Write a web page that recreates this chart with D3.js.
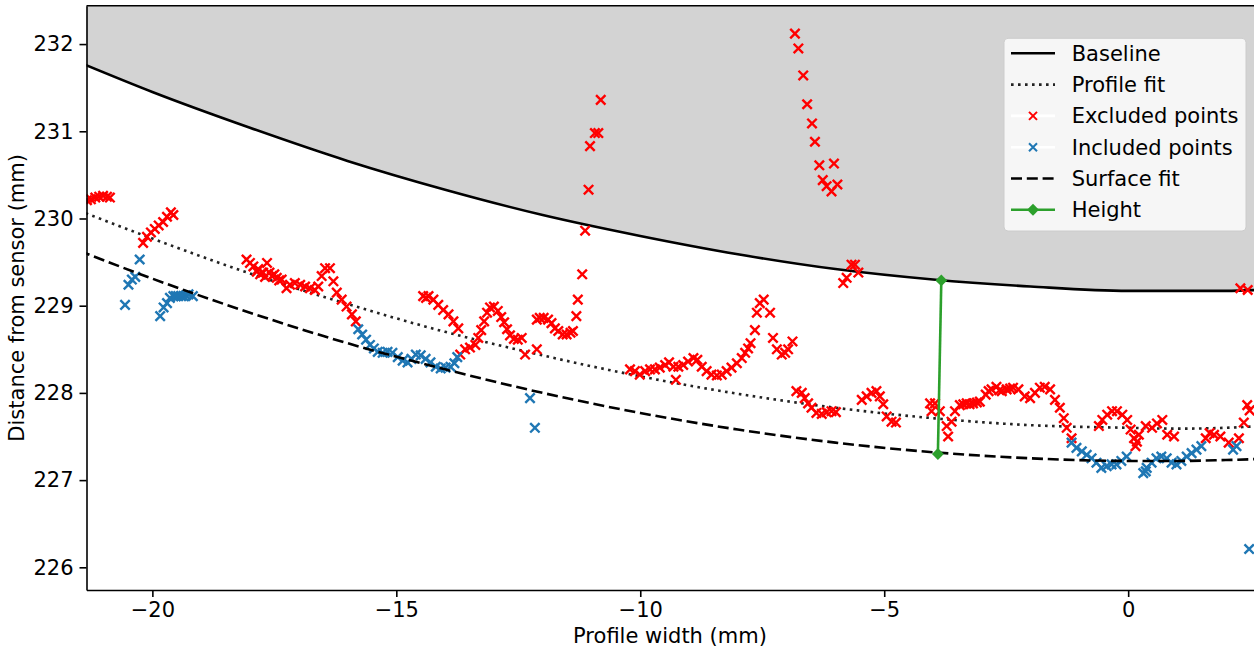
<!DOCTYPE html>
<html>
<head>
<meta charset="utf-8">
<script src="https://cdn.jsdelivr.net/npm/d3@7"></script>
<style>
    body { margin: 0; background: #fff; }
    svg { display: block; font-family: "DejaVu Sans", sans-serif; }
</style>
</head>
<body>
<div id="profile-chart"></div>
<script>
// curves (x in mm, y in mm)
const baselineCurve = [[-21.5,231.79],[-20,231.45],[-18,231.04],[-16,230.66],[-14,230.33],[-12,230.04],[-10,229.80],[-8,229.59],[-6,229.42],[-4,229.30],[-2,229.22],[0,229.17],[1,229.17],[2,229.17],[3,229.19]];
const profileFitCurve = [[-21.5,230.09],[-20,229.77],[-18,229.37],[-16,229.02],[-14,228.70],[-12,228.43],[-10,228.19],[-8,227.99],[-6,227.83],[-4,227.71],[-2,227.63],[0,227.60],[1,227.59],[2,227.60],[3,227.63]];
const surfaceFitCurve = [[-21.5,229.63],[-20,229.31],[-18,228.92],[-16,228.57],[-14,228.27],[-12,228.00],[-10,227.77],[-8,227.58],[-6,227.43],[-4,227.32],[-2,227.25],[0,227.22],[1,227.22],[2,227.23],[3,227.25]];
const heightLine = [[-3.90,227.30],[-3.83,229.29]];

const excludedPoints = [
    [-21.34,230.21],[-21.26,230.22],[-21.17,230.24],[-21.09,230.25],[-21.01,230.26],[-20.93,230.25],[-20.87,230.24],
    [-20.19,229.72],[-20.11,229.79],[-20.03,229.84],[-19.95,229.88],[-19.87,229.92],[-19.78,229.96],[-19.70,230.02],[-19.62,230.07],[-19.57,230.04],
    [-18.07,229.53],[-18.00,229.49],[-17.93,229.45],[-17.86,229.39],[-17.83,229.42],[-17.79,229.36],[-17.73,229.38],[-17.69,229.33],[-17.65,229.49],
    [-17.60,229.38],[-17.55,229.34],[-17.50,229.36],[-17.45,229.32],[-17.40,229.29],[-17.35,229.30],[-17.25,229.20],[-17.18,229.24],[-17.08,229.26],
    [-16.97,229.24],[-16.87,229.22],[-16.77,229.20],[-16.67,229.18],[-16.60,229.22],[-16.53,229.34],[-16.46,229.43],[-16.36,229.43],[-16.29,229.28],
    [-16.22,229.15],[-16.12,229.07],[-16.02,228.99],[-15.91,228.90],[-15.83,228.82],
    [-14.45,229.11],[-14.39,229.09],[-14.34,229.11],[-14.24,229.07],[-14.14,229.01],[-14.04,228.95],[-13.93,228.90],[-13.83,228.82],[-13.73,228.74],
    [-13.69,228.44],[-13.59,228.50],[-13.49,228.52],[-13.38,228.55],[-13.32,228.63],[-13.26,228.72],[-13.20,228.82],[-13.14,228.92],[-13.08,228.98],
    [-13.00,228.99],[-12.92,228.94],[-12.85,228.87],[-12.79,228.81],[-12.73,228.73],[-12.67,228.66],[-12.59,228.62],[-12.51,228.61],[-12.43,228.63],
    [-12.36,228.44],[-12.12,228.50],
    [-12.12,228.84],[-12.06,228.86],[-11.98,228.86],[-11.89,228.84],[-11.82,228.80],[-11.75,228.74],[-11.68,228.71],[-11.59,228.67],[-11.51,228.67],
    [-11.43,228.69],[-11.38,228.71],[-11.31,228.88],[-11.28,229.07],[-11.19,229.36],[-11.13,229.86],[-11.06,230.33],[-11.03,230.83],[-10.93,230.98],
    [-10.86,230.98],[-10.81,231.36],
    [-10.21,228.27],[-10.11,228.25],[-10.01,228.21],[-9.90,228.25],[-9.80,228.27],[-9.70,228.27],[-9.60,228.29],[-9.49,228.32],[-9.41,228.35],
    [-9.32,228.30],[-9.27,228.15],[-9.22,228.30],[-9.12,228.32],[-9.02,228.36],[-8.91,228.40],[-8.83,228.38],[-8.74,228.30],[-8.64,228.25],
    [-8.54,228.21],[-8.43,228.20],[-8.33,228.21],[-8.23,228.25],[-8.13,228.29],[-8.02,228.34],[-7.92,228.40],[-7.85,228.46],[-7.79,228.51],
    [-7.74,228.57],[-7.65,228.72],[-7.61,228.92],[-7.55,229.03],[-7.47,229.07],[-7.34,228.92],[-7.28,228.63],[-7.20,228.50],[-7.10,228.44],
    [-7.03,228.46],[-6.97,228.50],[-6.88,228.59],
    [-6.83,232.12],[-6.76,231.95],[-6.66,231.64],[-6.58,231.31],[-6.48,231.09],[-6.42,230.88],[-6.33,230.61],[-6.26,230.44],[-6.18,230.37],
    [-6.08,230.31],[-6.03,230.63],[-5.96,230.39],
    [-5.84,229.26],[-5.77,229.32],[-5.67,229.47],[-5.60,229.47],[-5.53,229.38],
    [-6.80,228.02],[-6.69,228.00],[-6.63,227.94],[-6.56,227.88],[-6.49,227.83],[-6.39,227.77],[-6.28,227.76],[-6.18,227.78],[-6.08,227.79],[-5.99,227.78],
    [-5.46,227.92],[-5.36,227.96],[-5.26,228.00],[-5.16,228.02],[-5.09,227.96],[-5.02,227.87],[-4.95,227.73],[-4.85,227.67],[-4.76,227.66],
    [-4.06,227.88],[-3.96,227.88],[-4.03,227.79],[-3.86,227.79],[-3.72,227.62],[-3.69,227.50],[-3.62,227.67],[-3.55,227.79],[-3.45,227.86],
    [-3.38,227.87],[-3.31,227.88],[-3.25,227.87],[-3.18,227.88],[-3.10,227.89],[-3.04,227.90],[-2.92,227.98],[-2.86,228.02],[-2.80,228.04],
    [-2.70,228.07],[-2.64,228.03],[-2.59,228.02],[-2.49,228.04],[-2.42,228.05],[-2.36,228.06],[-2.25,228.04],[-2.12,227.96],[-2.01,227.94],
    [-1.91,228.00],[-1.81,228.06],[-1.71,228.07],[-1.60,228.04],[-1.50,227.92],[-1.40,227.83],[-1.32,227.71],[-1.26,227.60],[-1.16,227.48],
    [-0.60,227.62],[-0.53,227.69],[-0.43,227.75],[-0.33,227.79],[-0.23,227.79],[-0.12,227.75],[-0.02,227.69],[0.05,227.58],[0.12,227.48],
    [0.15,227.39],[0.18,227.44],[0.22,227.52],[0.36,227.62],[0.49,227.60],[0.59,227.65],[0.70,227.69],[0.80,227.52],[0.94,227.50],
    [1.59,227.48],[1.67,227.54],[1.76,227.52],[1.89,227.50],[2.06,227.43],[2.27,227.48],[2.37,227.66],[2.44,227.86],[2.49,227.80],
    [2.30,229.20],[2.45,229.18]
];

const includedPoints = [
    [-20.56,229.01],[-20.49,229.24],[-20.42,229.30],[-20.35,229.33],[-20.26,229.53],
    [-19.84,228.88],[-19.77,228.98],[-19.70,229.03],[-19.64,229.09],[-19.57,229.11],[-19.52,229.11],[-19.47,229.11],[-19.41,229.11],
    [-19.36,229.11],[-19.31,229.12],[-19.26,229.13],[-19.17,229.11],
    [-15.78,228.73],[-15.70,228.67],[-15.62,228.61],[-15.54,228.55],[-15.46,228.51],[-15.38,228.47],[-15.28,228.46],[-15.18,228.47],
    [-15.08,228.46],[-14.97,228.41],[-14.87,228.37],[-14.77,228.35],[-14.69,228.39],[-14.60,228.44],[-14.50,228.43],[-14.40,228.39],
    [-14.30,228.35],[-14.19,228.30],[-14.09,228.28],[-13.99,228.29],[-13.89,228.30],[-13.81,228.34],[-13.75,228.41],
    [-12.26,227.94],[-12.16,227.60],
    [-1.16,227.43],[-1.06,227.37],[-0.95,227.33],[-0.85,227.29],[-0.75,227.25],[-0.65,227.20],[-0.55,227.14],[-0.44,227.16],
    [-0.34,227.18],[-0.24,227.18],[-0.14,227.22],[-0.03,227.27],[0.31,227.08],[0.36,227.10],[0.38,227.14],[0.48,227.20],[0.58,227.25],
    [0.68,227.27],[0.79,227.25],[0.89,227.20],[0.99,227.18],[1.09,227.22],[1.20,227.27],[1.30,227.31],[1.40,227.35],[1.50,227.39],
    [2.15,227.35],[2.22,227.39],[2.48,226.21]
];

const xTicks = [-20, -15, -10, -5, 0];
const yTicks = [226, 227, 228, 229, 230, 231, 232];
const legendLabels = ['Baseline', 'Profile fit', 'Excluded points', 'Included points', 'Surface fit', 'Height'];

const width = 1254, height = 653;
const plot = {left: 86.5, right: 1256, top: 5.7, bottom: 590};
const RED = '#ff0000', BLUE = '#1f77b4', GREEN = '#2ca02c';
const FONT = '21px';

const svg = d3.select('#profile-chart').append('svg')
    .attr('width', width).attr('height', height);

const x = d3.scaleLinear().domain([-21.35, 2.62]).range([plot.left, plot.right]);
const y = d3.scaleLinear().domain([225.74, 232.44]).range([plot.bottom, plot.top]);

svg.append('clipPath').attr('id', 'plot-clip')
    .append('rect')
    .attr('x', plot.left).attr('y', plot.top)
    .attr('width', plot.right - plot.left).attr('height', plot.bottom - plot.top);

const g = svg.append('g').attr('clip-path', 'url(#plot-clip)');

// grey region above the baseline
g.append('path')
    .datum(baselineCurve)
    .attr('fill', '#d3d3d3')
    .attr('d', d3.area()
        .x(d => x(d[0]))
        .y0(plot.top)
        .y1(d => y(d[1]))
        .curve(d3.curveMonotoneX));

const line = d3.line().x(d => x(d[0])).y(d => y(d[1])).curve(d3.curveMonotoneX);

g.append('path').datum(baselineCurve)
    .attr('fill', 'none').attr('stroke', '#000').attr('stroke-width', 2.6)
    .attr('d', line);

g.append('path').datum(profileFitCurve)
    .attr('fill', 'none').attr('stroke', '#222').attr('stroke-width', 2.6)
    .attr('stroke-dasharray', '2.6,4.4')
    .attr('d', line);

const cross = 'M-4.7,-4.7L4.7,4.7M-4.7,4.7L4.7,-4.7';

g.append('g').selectAll('path')
    .data(excludedPoints).join('path')
    .attr('transform', d => `translate(${x(d[0])},${y(d[1])})`)
    .attr('d', cross).attr('stroke', RED).attr('stroke-width', 2.4).attr('fill', 'none');

g.append('g').selectAll('path')
    .data(includedPoints).join('path')
    .attr('transform', d => `translate(${x(d[0])},${y(d[1])})`)
    .attr('d', cross).attr('stroke', BLUE).attr('stroke-width', 2.4).attr('fill', 'none');

g.append('path').datum(surfaceFitCurve)
    .attr('fill', 'none').attr('stroke', '#000').attr('stroke-width', 2.6)
    .attr('stroke-dasharray', '11,4.8')
    .attr('d', line);

// height marker
g.append('path').datum(heightLine)
    .attr('fill', 'none').attr('stroke', GREEN).attr('stroke-width', 2.6)
    .attr('d', d3.line().x(d => x(d[0])).y(d => y(d[1])));
const diamond = d3.symbol().type(d3.symbolDiamond2).size(90);
g.append('g').selectAll('path')
    .data(heightLine).join('path')
    .attr('transform', d => `translate(${x(d[0])},${y(d[1])})`)
    .attr('d', diamond).attr('fill', GREEN);

// axes
const fmt = d3.format('d');
const xAxis = svg.append('g')
    .attr('transform', `translate(0,${plot.bottom})`)
    .call(d3.axisBottom(x).tickValues(xTicks).tickFormat(fmt).tickSize(7).tickPadding(5).tickSizeOuter(0));
const yAxis = svg.append('g')
    .attr('transform', `translate(${plot.left},0)`)
    .call(d3.axisLeft(y).tickValues(yTicks).tickFormat(fmt).tickSize(7).tickPadding(6).tickSizeOuter(0));

[xAxis, yAxis].forEach(a => {
    a.select('.domain').attr('stroke', '#000').attr('stroke-width', 1.6);
    a.selectAll('.tick line').attr('stroke', '#000').attr('stroke-width', 1.6);
    a.selectAll('.tick text').attr('fill', '#000')
        .style('font-size', FONT).style('font-family', '"DejaVu Sans", sans-serif');
});

// top and right spines
svg.append('path')
    .attr('d', `M${plot.left},${plot.top}H${plot.right}V${plot.bottom}`)
    .attr('fill', 'none').attr('stroke', '#000').attr('stroke-width', 1.6);

svg.append('text')
    .attr('x', 670).attr('y', 643)
    .attr('text-anchor', 'middle').style('font-size', FONT)
    .text('Profile width (mm)');

svg.append('text')
    .attr('transform', `translate(24,${(plot.top + plot.bottom) / 2}) rotate(-90)`)
    .attr('text-anchor', 'middle').style('font-size', FONT)
    .text('Distance from sensor (mm)');

// legend
const legend = svg.append('g').attr('transform', 'translate(1004,38.3)');
legend.append('rect')
    .attr('width', 242).attr('height', 192.7).attr('rx', 4)
    .attr('fill', '#f6f6f6').attr('stroke', '#cccccc').attr('stroke-width', 1);

const rows = legend.selectAll('g.row')
    .data(legendLabels).join('g')
    .attr('class', 'row')
    .attr('transform', (d, i) => `translate(0,${15 + i * 31.3})`);

rows.append('text')
    .attr('x', 67.7).attr('dy', '0.36em')
    .style('font-size', FONT).attr('fill', '#000')
    .text(d => d);

rows.each(function(d, i) {
    const r = d3.select(this);
    const h = r.append('line').attr('x1', 7).attr('x2', 51).attr('y1', 0).attr('y2', 0)
        .attr('stroke-width', 2.6);
    if (i === 0) h.attr('stroke', '#000');
    if (i === 1) h.attr('stroke', '#222').attr('stroke-dasharray', '2.6,4.4');
    if (i === 2 || i === 3) {
        h.attr('stroke', '#fff');
        r.append('path').attr('transform', 'translate(29,0)').attr('d', 'M-4,-4L4,4M-4,4L4,-4')
            .attr('stroke', i === 2 ? RED : BLUE).attr('stroke-width', 2).attr('fill', 'none');
    }
    if (i === 4) h.attr('stroke', '#000').attr('stroke-dasharray', '11,4.8');
    if (i === 5) {
        h.attr('stroke', GREEN);
        r.append('path').attr('transform', 'translate(29,0)').attr('d', diamond).attr('fill', GREEN);
    }
});
</script>
</body>
</html>
